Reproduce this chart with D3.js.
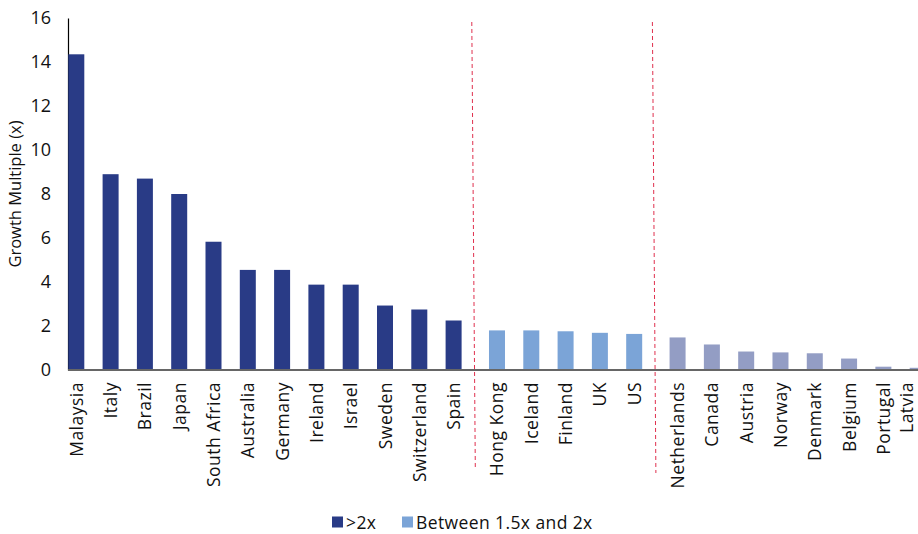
<!DOCTYPE html>
<html>
<head>
<meta charset="utf-8">
<script src="https://cdn.jsdelivr.net/npm/d3@7"></script>
<style>
  body { margin: 0; background: #fff; }
  svg text { font-family: "Open Sans", "Lato", sans-serif; fill: #111; }
</style>
</head>
<body>
<svg id="chart"></svg>
<script>
// data
const countries = ["Malaysia", "Italy", "Brazil", "Japan", "South Africa", "Australia", "Germany",
    "Ireland", "Israel", "Sweden", "Switzerland", "Spain",
    "Hong Kong", "Iceland", "Finland", "UK", "US",
    "Netherlands", "Canada", "Austria", "Norway", "Denmark", "Belgium", "Portugal", "Latvia"];
const multiples = [14.35, 8.9, 8.7, 8.0, 5.83, 4.55, 4.55, 3.88, 3.88, 2.93, 2.75, 2.25,
    1.8, 1.8, 1.76, 1.69, 1.64,
    1.48, 1.16, 0.84, 0.8, 0.76, 0.52, 0.15, 0.1];
const groupOf = [0,0,0,0,0,0,0,0,0,0,0,0, 1,1,1,1,1, 2,2,2,2,2,2,2,2];
const legendLabels = [">2x", "Between 1.5x and 2x"];
const yTicks = [0, 2, 4, 6, 8, 10, 12, 14, 16];

const colors = ["#293b86", "#7ba4d7", "#939dc4"];

const W = 918, H = 534;
const margin = {top: 18, left: 68, bottom: 164};
const baseY = H - margin.bottom;   // ~370

const svg = d3.select("#chart").attr("width", W).attr("height", H);

const data = countries.map(function (c, i) {
    return {name: c, value: multiples[i], group: groupOf[i], idx: i};
});

// slot position: index plus a small extra gap at each group change
const gapFrac = 0.265;
const xScale = d3.scaleLinear()
    .domain([0, 1])
    .range([76.3, 76.3 + 34.3]);
function xPos(d) { return xScale(d.idx + d.group * gapFrac); }
const barW = 16;

const yScale = d3.scaleLinear().domain([0, 16]).range([baseY, margin.top]);

// y axis
const yAxis = svg.append("g")
    .attr("transform", "translate(" + margin.left + ",0)")
    .call(d3.axisLeft(yScale).tickValues(yTicks).tickSize(0).tickPadding(17));
yAxis.select(".domain").attr("stroke", "#000").attr("stroke-width", 1.2);
yAxis.selectAll("text").style("font-size", "18px").attr("fill", "#111");

svg.append("text")
    .attr("transform", "translate(21," + ((baseY + margin.top) / 2) + ") rotate(-90)")
    .attr("text-anchor", "middle")
    .style("font-size", "16.5px")
    .text("Growth Multiple (x)");

// bars
svg.selectAll(".bar")
    .data(data)
    .enter().append("rect")
    .attr("class", "bar")
    .attr("x", function (d) { return xPos(d) - barW / 2; })
    .attr("y", function (d) { return yScale(d.value); })
    .attr("width", barW)
    .attr("height", function (d) { return baseY - yScale(d.value); })
    .attr("fill", function (d) { return colors[d.group]; });

// baseline
svg.append("line")
    .attr("x1", margin.left).attr("x2", W)
    .attr("y1", baseY).attr("y2", baseY)
    .attr("stroke", "#666").attr("stroke-width", 2);

// x labels (last one pulled in so it stays on the page)
svg.selectAll(".xlab")
    .data(data)
    .enter().append("text")
    .attr("class", "xlab")
    .attr("transform", function (d) {
        const x = Math.min(xPos(d) + 6.5, W - 5);
        return "translate(" + x + "," + (baseY + 12) + ") rotate(-90)";
    })
    .attr("text-anchor", "end")
    .style("font-size", "17.5px")
    .style("letter-spacing", "0.5px")
    .text(function (d) { return d.name; });

// dashed separators between groups
const seps = [
    {x: (xPos(data[11]) + xPos(data[12])) / 2, bottom: 467},
    {x: (xPos(data[16]) + xPos(data[17])) / 2, bottom: 473}
];
svg.selectAll(".sep")
    .data(seps)
    .enter().append("line")
    .attr("x1", function (d) { return d.x - 3.5; })
    .attr("x2", function (d) { return d.x; })
    .attr("y1", 22)
    .attr("y2", function (d) { return d.bottom; })
    .attr("stroke", "#e0304e")
    .attr("stroke-width", 1)
    .attr("stroke-dasharray", "4,3");

// legend
const legend = svg.append("g").attr("transform", "translate(332,522)");
const legendX = [0, 70];
legendLabels.forEach(function (l, i) {
    const g = legend.append("g").attr("transform", "translate(" + legendX[i] + ",0)");
    g.append("rect").attr("x", 0).attr("y", -5.5).attr("width", 11).attr("height", 11).attr("fill", colors[i]);
    g.append("text").attr("x", 14).attr("y", 6.5).style("font-size", "17.5px")
        .style("letter-spacing", "0.4px").text(l);
});
</script>
</body>
</html>
